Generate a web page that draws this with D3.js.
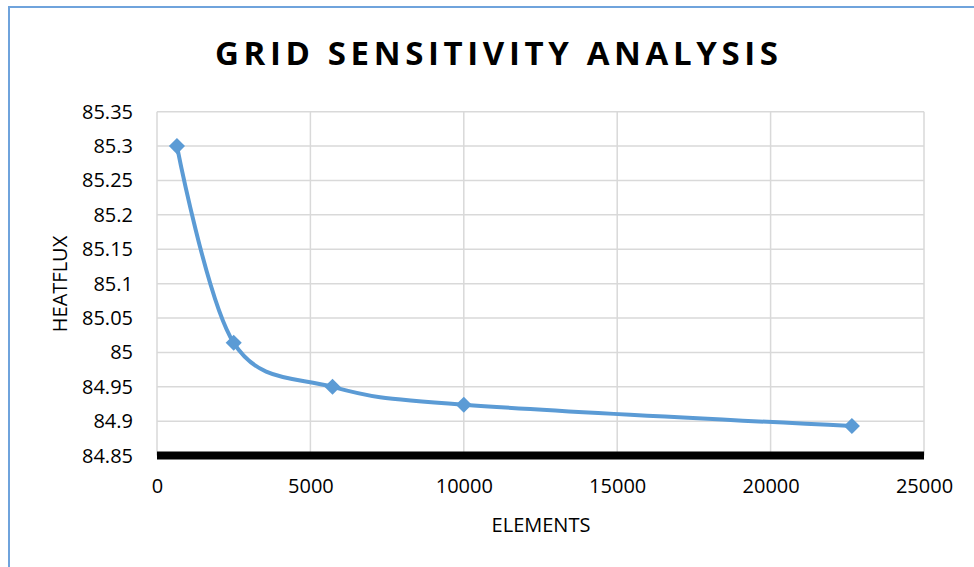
<!DOCTYPE html>
<html><head><meta charset="utf-8">
<script src="https://cdn.jsdelivr.net/npm/d3@7"></script>
<style>body{margin:0;background:#fff}svg{display:block}</style>
</head><body>
<svg id="c" width="974" height="567"></svg>
<script>
const elements = [650, 2500, 5720, 10000, 22650];
const heatflux = [85.3, 85.014, 84.95, 84.924, 84.893];
const xTicks = [0, 5000, 10000, 15000, 20000, 25000];
const yTicks = [84.85, 84.9, 84.95, 85, 85.05, 85.1, 85.15, 85.2, 85.25, 85.3, 85.35];
const titleText = "GRID SENSITIVITY ANALYSIS";
const xTitle = "ELEMENTS";
const yTitle = "HEATFLUX";

const svg = d3.select("#c");
const font = "'Open Sans', sans-serif";
const L = 157, R = 924, T = 111.7, B = 455.6;
const x = d3.scaleLinear().domain([0, 25000]).range([L, R]);
const y = d3.scaleLinear().domain([84.85, 85.35]).range([B, T]);

// outer border
svg.append("path").attr("d", "M9,980 L9,7 L990,7").attr("fill", "none")
  .attr("stroke", "#6fa3dc").attr("stroke-width", 2);

// grid
svg.append("g").selectAll("line").data(yTicks.slice(1)).join("line")
  .attr("x1", L).attr("x2", R).attr("y1", d => y(d)).attr("y2", d => y(d))
  .attr("stroke", "#d9d9d9").attr("stroke-width", 1.5);
svg.append("g").selectAll("line").data(xTicks).join("line")
  .attr("x1", d => x(d)).attr("x2", d => x(d)).attr("y1", T).attr("y2", B)
  .attr("stroke", "#d9d9d9").attr("stroke-width", 1.5);

// axes
const yAxis = d3.axisLeft(y).tickValues(yTicks).tickSize(0).tickPadding(24)
  .tickFormat(d => String(+d.toFixed(2)));
const gy = svg.append("g").attr("transform", `translate(${L},0)`).call(yAxis);
gy.select(".domain").remove();
gy.selectAll("text").attr("font-family", font).attr("font-size", 20).attr("fill", "#000");

const xAxis = d3.axisBottom(x).tickValues(xTicks).tickSize(0).tickPadding(23)
  .tickFormat(d3.format("d"));
const gx = svg.append("g").attr("transform", `translate(0,${B})`).call(xAxis);
gx.select(".domain").remove();
gx.selectAll("text").attr("font-family", font).attr("font-size", 20).attr("fill", "#000");

// thick baseline
svg.append("line").attr("x1", L).attr("x2", R).attr("y1", B).attr("y2", B)
  .attr("stroke", "#000").attr("stroke-width", 8);

// line
const pts = elements.map((e, i) => [x(e), y(heatflux[i])]);
svg.append("path").datum(pts)
  .attr("d", d3.line().curve(d3.curveCatmullRom.alpha(0)))
  .attr("fill", "none").attr("stroke", "#5b9bd5").attr("stroke-width", 4);
svg.append("g").selectAll("path").data(pts).join("path")
  .attr("transform", d => `translate(${d[0]},${d[1]})`)
  .attr("d", d3.symbol(d3.symbolDiamond2, 165))
  .attr("fill", "#5b9bd5");

// titles
svg.append("text").attr("x", 215).attr("y", 65)
  .attr("font-family", font).attr("font-size", 33).attr("font-weight", "bold")
  .attr("textLength", 563).attr("lengthAdjust", "spacing").text(titleText);
svg.append("text").attr("x", 541).attr("y", 532).attr("text-anchor", "middle")
  .attr("font-family", font).attr("font-size", 20).text(xTitle);
svg.append("text").attr("transform", "translate(67,284) rotate(-90)").attr("text-anchor", "middle")
  .attr("font-family", font).attr("font-size", 20).text(yTitle);
</script>
</body></html>
